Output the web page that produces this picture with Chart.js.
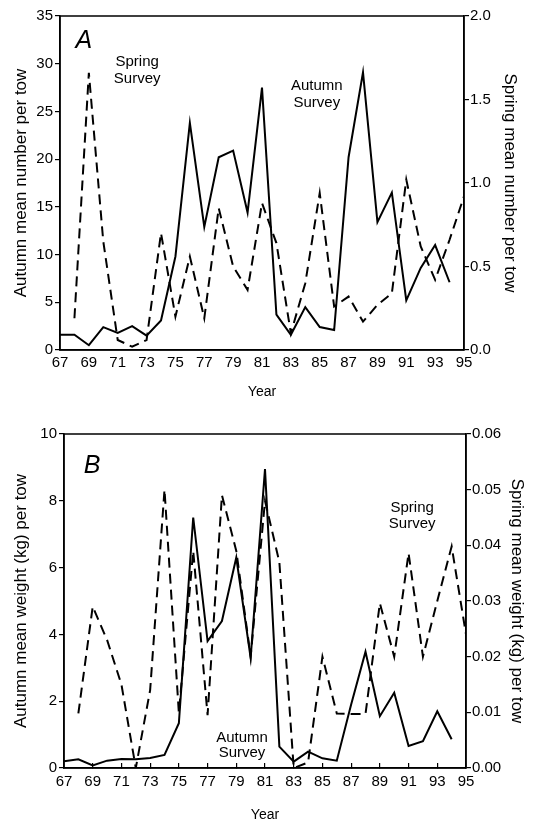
<!DOCTYPE html>
<html>
<head>
<meta charset="utf-8">
<script src="https://cdn.jsdelivr.net/npm/chart.js@4.4.0/dist/chart.umd.min.js"></script>
<style>
  body { margin: 0; background: #fff; }
  canvas { position: absolute; left: 0; display: block; }
  #chart-a { top: 0; }
  #chart-b { top: 413px; }
</style>
</head>
<body>
<canvas id="chart-a" width="536" height="413"></canvas>
<canvas id="chart-b" width="536" height="413"></canvas>
<script>
const years = [67, 68, 69, 70, 71, 72, 73, 74, 75, 76, 77, 78, 79, 80, 81,
               82, 83, 84, 85, 86, 87, 88, 89, 90, 91, 92, 93, 94, 95];

// Panel A: mean number per tow
const autumnNumber = [1.6, 1.6, 0.5, 2.4, 1.8, 2.5, 1.5, 3.1, 9.8, 23.8, 12.9, 20.2, 20.9, 14.4, 27.5,
                      3.7, 1.6, 4.5, 2.4, 2.1, 20.2, 29.1, 13.4, 16.5, 5.2, 8.6, 11.0, 7.1, null];
const springNumber = [null, 0.19, 1.66, 0.65, 0.06, 0.02, 0.06, 0.70, 0.20, 0.56, 0.19, 0.85, 0.50, 0.36, 0.88,
                      0.64, 0.10, 0.40, 0.94, 0.26, 0.32, 0.17, 0.27, 0.34, 1.02, 0.62, 0.42, 0.66, 0.92];

// Panel B: mean weight (kg) per tow
const autumnWeight = [0.2, 0.26, 0.08, 0.22, 0.27, 0.26, 0.3, 0.39, 1.34, 7.5, 3.8, 4.4, 6.3, 3.3, 8.95,
                      0.64, 0.19, 0.49, 0.29, 0.22, 1.9, 3.48, 1.55, 2.25, 0.66, 0.8, 1.7, 0.86, null];
const springWeight = [null, 0.0098, 0.029, 0.023, 0.015, 0.0, 0.014, 0.05, 0.0099, 0.039, 0.0095, 0.049, 0.039, 0.02, 0.048,
                      0.037, 0.0, 0.001, 0.02, 0.0098, 0.0097, 0.0097, 0.0296, 0.02, 0.0386, 0.02, 0.03, 0.0398, 0.024];

const leftTicksA = [0, 5, 10, 15, 20, 25, 30, 35];
const rightTicksA = [0, 0.5, 1.0, 1.5, 2.0];
const leftTicksB = [0, 2, 4, 6, 8, 10];
const rightTicksB = [0, 0.01, 0.02, 0.03, 0.04, 0.05, 0.06];

// text placed in data units: [text, year, left-axis value, font]
const notesA = [
    ['A', 68.65, 32.4, 'italic 25px "Liberation Sans"'],
    ['Spring', 72.35, 30.2, '15px "Liberation Sans"'],
    ['Survey', 72.35, 28.4, '15px "Liberation Sans"'],
    ['Autumn', 84.8, 27.7, '15px "Liberation Sans"'],
    ['Survey', 84.8, 25.9, '15px "Liberation Sans"']
];
const notesB = [
    ['B', 68.95, 9.05, 'italic 25px "Liberation Sans"'],
    ['Spring', 91.25, 7.8, '15px "Liberation Sans"'],
    ['Survey', 91.25, 7.32, '15px "Liberation Sans"'],
    ['Autumn', 79.4, 0.9, '15px "Liberation Sans"'],
    ['Survey', 79.4, 0.45, '15px "Liberation Sans"']
];

const FONT = 'Liberation Sans';

const framePlugin = {
    id: 'frame',
    afterDraw(chart, args, opts) {
        const ctx = chart.ctx;
        const a = chart.chartArea;
        ctx.save();
        ctx.strokeStyle = '#000';
        ctx.lineWidth = 1.5;
        ctx.strokeRect(a.left, a.top, a.right - a.left, a.bottom - a.top);
        ctx.fillStyle = '#000';
        ctx.textAlign = 'center';
        ctx.textBaseline = 'middle';
        opts.notes.forEach(function (n) {
            ctx.font = n[3];
            ctx.fillText(n[0], chart.scales.x.getPixelForValue(n[1]), chart.scales.y.getPixelForValue(n[2]));
        });
        ctx.restore();
    }
};

function points(vals) {
    return years.map(function (yr, i) { return { x: yr, y: vals[i] }; });
}

function makeChart(id, cfg) {
    const ctx = document.getElementById(id).getContext('2d');
    return new Chart(ctx, {
        type: 'line',
        data: {
            datasets: [{
                data: points(cfg.autumn),
                yAxisID: 'y',
                borderColor: '#000',
                borderWidth: 2,
                pointRadius: 0,
                tension: 0,
                spanGaps: false
            }, {
                data: points(cfg.spring),
                yAxisID: 'y1',
                borderColor: '#000',
                borderWidth: 2,
                borderDash: [10, 6],
                pointRadius: 0,
                tension: 0,
                spanGaps: false
            }]
        },
        options: {
            responsive: false,
            animation: false,
            devicePixelRatio: 1,
            layout: { padding: { top: cfg.padTop, left: 0, right: 0, bottom: 0 } },
            plugins: {
                legend: { display: false },
                tooltip: { enabled: false },
                frame: { notes: cfg.notes }
            },
            scales: {
                x: {
                    type: 'linear',
                    min: 67,
                    max: 95,
                    afterFit: function (s) { s.height = cfg.xHeight; },
                    afterBuildTicks: function (s) {
                        s.ticks = years.filter(function (y) { return y % 2 === 1; }).map(function (v) { return { value: v }; });
                    },
                    grid: { drawOnChartArea: false, drawTicks: cfg.xTicks, tickLength: -5, color: '#000', lineWidth: 1.2 },
                    border: { color: '#000', width: 1.5 },
                    ticks: {
                        color: '#000',
                        padding: cfg.xTicks ? 10 : 4,
                        maxRotation: 0,
                        autoSkip: false,
                        font: { family: FONT, size: 15 },
                        callback: function (v) { return String(v); }
                    },
                    title: {
                        display: true,
                        text: 'Year',
                        color: '#000',
                        font: { family: FONT, size: 14 },
                        padding: { top: 0, bottom: cfg.yearPad }
                    }
                },
                y: {
                    position: 'left',
                    min: 0,
                    max: cfg.leftTicks[cfg.leftTicks.length - 1],
                    afterFit: function (s) { s.width = cfg.leftWidth; },
                    afterBuildTicks: function (s) {
                        s.ticks = cfg.leftTicks.map(function (v) { return { value: v }; });
                    },
                    grid: { drawOnChartArea: false, tickLength: 5, color: '#000', lineWidth: 1.2 },
                    border: { color: '#000', width: 1.5 },
                    ticks: {
                        color: '#000',
                        padding: 2,
                        font: { family: FONT, size: 15 },
                        callback: function (v) { return String(v); }
                    },
                    title: {
                        display: true,
                        text: cfg.leftTitle,
                        color: '#000',
                        font: { family: FONT, size: 17 },
                        padding: { top: 11, bottom: 0 }
                    }
                },
                y1: {
                    position: 'right',
                    min: 0,
                    max: cfg.rightTicks[cfg.rightTicks.length - 1],
                    afterFit: function (s) { s.width = cfg.rightWidth; },
                    afterBuildTicks: function (s) {
                        s.ticks = cfg.rightTicks.map(function (v) { return { value: v }; });
                    },
                    grid: { drawOnChartArea: false, tickLength: 5, color: '#000', lineWidth: 1.2 },
                    border: { color: '#000', width: 1.5 },
                    ticks: {
                        color: '#000',
                        padding: 1,
                        font: { family: FONT, size: 15 },
                        callback: function (v) { return v.toFixed(cfg.rightDigits); }
                    },
                    title: {
                        display: true,
                        text: cfg.rightTitle,
                        color: '#000',
                        font: { family: FONT, size: 17 },
                        padding: { top: cfg.rightTitlePad, bottom: 0 }
                    }
                }
            }
        },
        plugins: [framePlugin]
    });
}

document.addEventListener('DOMContentLoaded', function () {
    makeChart('chart-a', {
        autumn: autumnNumber,
        spring: springNumber,
        leftTicks: leftTicksA,
        rightTicks: rightTicksA,
        rightDigits: 1,
        leftTitle: 'Autumn mean number per tow',
        rightTitle: 'Spring mean number per tow',
        notes: notesA,
        padTop: 16,
        leftWidth: 60,
        rightWidth: 72,
        xHeight: 63,
        xTicks: false,
        yearPad: 12.5,
        rightTitlePad: 16
    });
    makeChart('chart-b', {
        autumn: autumnWeight,
        spring: springWeight,
        leftTicks: leftTicksB,
        rightTicks: rightTicksB,
        rightDigits: 2,
        leftTitle: 'Autumn mean weight (kg) per tow',
        rightTitle: 'Spring mean weight (kg) per tow',
        notes: notesB,
        padTop: 21,
        leftWidth: 64,
        rightWidth: 70,
        xHeight: 58,
        xTicks: true,
        yearPad: 2.5,
        rightTitlePad: 9
    });
});
</script>
</body>
</html>
